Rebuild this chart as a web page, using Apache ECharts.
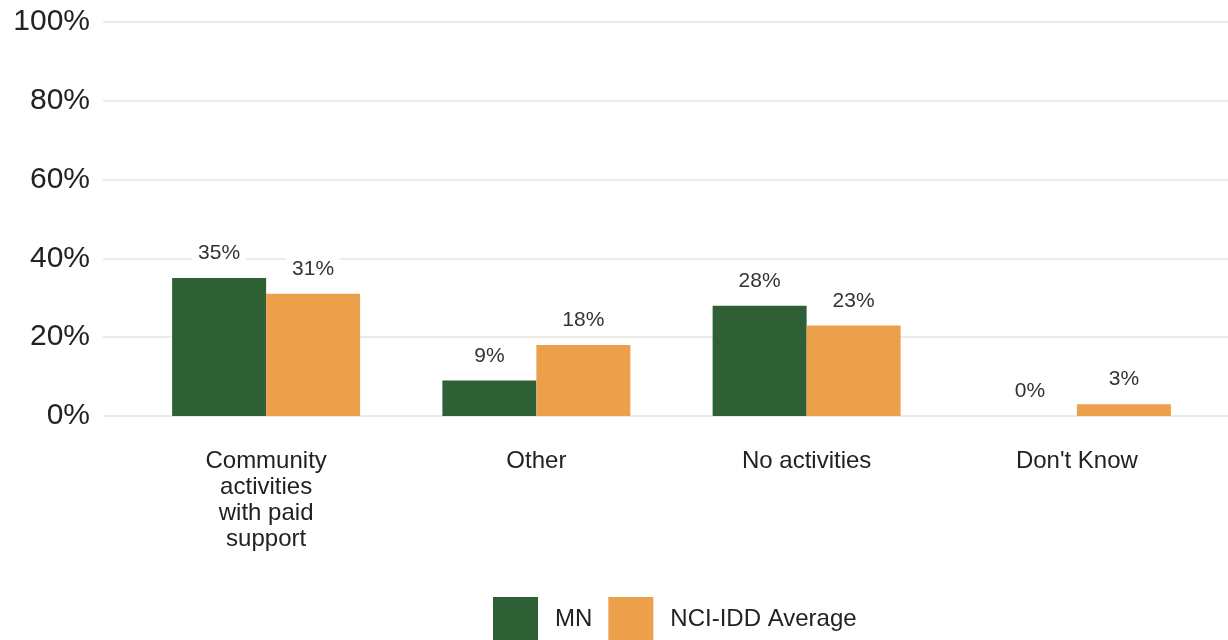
<!DOCTYPE html>
<html><head><meta charset="utf-8">
<script src="https://cdn.jsdelivr.net/npm/echarts@6/dist/echarts.min.js"></script>
<style>html,body{margin:0;padding:0;background:#fff}#c{width:1228px;height:640px}</style>
</head><body><div id="c"></div>
<script>
const categories = ["Community\nactivities\nwith paid\nsupport", "Other", "No activities", "Don't Know"];
const mnValues = [35, 9, 28, 0];
const nciValues = [31, 18, 23, 3];
const yTicks = [0, 20, 40, 60, 80, 100];

const chart = echarts.init(document.getElementById('c'));
const font = "'Liberation Sans', Arial, sans-serif";
const lbl = {show: true, position: 'top', distance: 12, formatter: p => p.value + '%', fontSize: 21, color: '#333', fontFamily: font, backgroundColor: '#fff', padding: [2, 6]};
chart.setOption({
  animation: false,
  grid: [
    {left: 103, right: 0, top: 22, bottom: 224},
    {left: 131, right: 16, top: 22, bottom: 224}
  ],
  legend: {
    left: 488, top: 592, itemWidth: 45, itemHeight: 45, itemGap: 16,
    icon: 'rect',
    textStyle: {fontSize: 24, color: '#222', fontFamily: font, padding: [0, 0, 0, 12]},
    data: ['MN', 'NCI-IDD Average']
  },
  xAxis: [
    {gridIndex: 0, type: 'value', show: false, min: 0, max: 1},
    {gridIndex: 1, type: 'category', data: categories,
     axisLine: {show: false}, axisTick: {show: false},
     axisLabel: {fontSize: 24, color: '#222', fontFamily: font, lineHeight: 26, margin: 32}}
  ],
  yAxis: [
    {gridIndex: 0, type: 'value', min: 0, max: 100, interval: 20,
     axisLine: {show: false}, axisTick: {show: false},
     axisLabel: {formatter: v => yTicks.includes(v) ? v + '%' : '', fontSize: 30, color: '#222', fontFamily: font, margin: 13},
     splitLine: {lineStyle: {color: '#ebebeb', width: 2}}},
    {gridIndex: 1, type: 'value', min: 0, max: 100, show: false, splitLine: {show: false}}
  ],
  series: [
    {name: 'MN', type: 'bar', xAxisIndex: 1, yAxisIndex: 1, data: mnValues, barWidth: 94, barGap: '0%',
     itemStyle: {color: '#2f5f34'}, label: lbl},
    {name: 'NCI-IDD Average', type: 'bar', xAxisIndex: 1, yAxisIndex: 1, data: nciValues, barWidth: 94, barGap: '0%',
     itemStyle: {color: '#eda04c'}, label: lbl}
  ]
});
</script></body></html>
